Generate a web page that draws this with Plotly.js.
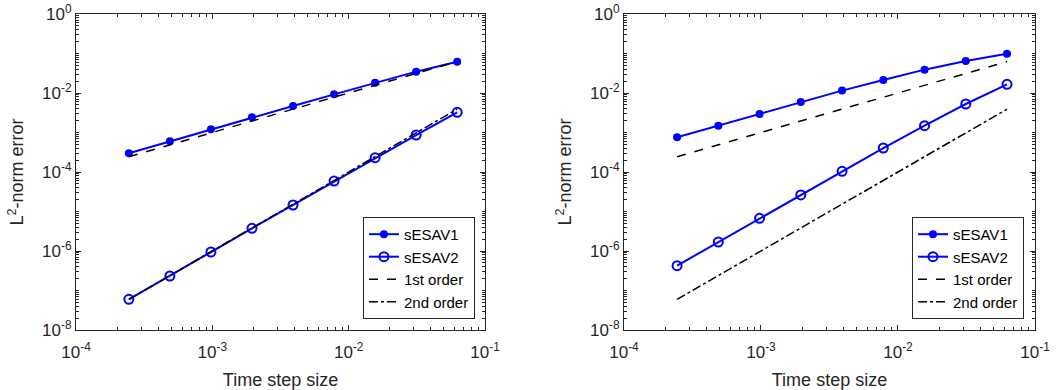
<!DOCTYPE html>
<html>
<head>
<meta charset="utf-8">
<script src="https://cdn.plot.ly/plotly-3.0.1.min.js"></script>
<style>html,body{margin:0;padding:0;background:#fff;}#chart{width:1060px;height:390px;}</style>
</head>
<body>
<div id="chart"></div>
<script>
// Time step sizes
const dt = [0.000244140625, 0.00048828125, 0.0009765625, 0.001953125, 0.00390625, 0.0078125, 0.015625, 0.03125, 0.0625];
// Reference slopes
const firstOrder = [2.44e-4, 4.88e-4, 9.77e-4, 1.95e-3, 3.91e-3, 7.81e-3, 1.56e-2, 3.13e-2, 6.25e-2];
const secondOrder = [5.96e-8, 2.38e-7, 9.54e-7, 3.81e-6, 1.53e-5, 6.10e-5, 2.44e-4, 9.77e-4, 3.91e-3];
// Left panel errors
const leftESAV1 = [2.97e-4, 5.97e-4, 1.20e-3, 2.42e-3, 4.69e-3, 9.25e-3, 1.83e-2, 3.47e-2, 6.21e-2];
const leftESAV2 = [5.97e-8, 2.33e-7, 9.43e-7, 3.75e-6, 1.46e-5, 5.91e-5, 2.31e-4, 8.64e-4, 3.24e-3];
// Right panel errors
const rightESAV1 = [7.55e-4, 1.49e-3, 2.94e-3, 5.92e-3, 1.15e-2, 2.13e-2, 3.90e-2, 6.46e-2, 9.90e-2];
const rightESAV2 = [4.25e-7, 1.69e-6, 6.71e-6, 2.62e-5, 1.04e-4, 4.05e-4, 1.49e-3, 5.27e-3, 1.66e-2];
// Names and tick labels
const seriesNames = ['sESAV1', 'sESAV2', '1st order', '2nd order'];
const xTickVals = [1e-4, 1e-3, 1e-2, 1e-1];
const xTickText = ['10<sup>-4</sup>', '10<sup>-3</sup>', '10<sup>-2</sup>', '10<sup>-1</sup>'];
const yTickVals = [1e-8, 1e-6, 1e-4, 1e-2, 1e0];
const yTickText = ['10<sup>-8</sup>', '10<sup>-6</sup>', '10<sup>-4</sup>', '10<sup>-2</sup>', '10<sup>0</sup>'];

const BLUE = '#0000ff';
const AX = '#262626';
const FONT = 'Liberation Sans, Arial, sans-serif';

function minorVals(lo, hi, withDecades) {
  const v = [];
  for (let e = lo; e < hi; e++) {
    const start = (withDecades && e > lo && (e - lo) % 2 === 1) ? 1 : 2;
    for (let m = start; m <= 9; m++) v.push(m * Math.pow(10, e));
  }
  return v;
}

function panel(xa, ya, leg, e1, e2) {
  return [
    {x: dt, y: e1, name: seriesNames[0], xaxis: xa, yaxis: ya, legend: leg, mode: 'lines+markers',
     line: {color: BLUE, width: 2}, marker: {symbol: 'circle', size: 8, color: BLUE}},
    {x: dt, y: e2, name: seriesNames[1], xaxis: xa, yaxis: ya, legend: leg, mode: 'lines+markers',
     line: {color: BLUE, width: 2}, marker: {symbol: 'circle-open', size: 9, color: BLUE, line: {width: 2, color: BLUE}}},
    {x: dt, y: firstOrder, name: seriesNames[2], xaxis: xa, yaxis: ya, legend: leg, mode: 'lines',
     line: {color: '#000', width: 1.5, dash: 'dash'}},
    {x: dt, y: secondOrder, name: seriesNames[3], xaxis: xa, yaxis: ya, legend: leg, mode: 'lines',
     line: {color: '#000', width: 1.5, dash: 'dashdot'}}
  ];
}

const data = [].concat(
  panel('x', 'y', 'legend', leftESAV1, leftESAV2),
  panel('x2', 'y2', 'legend2', rightESAV1, rightESAV2)
);

function xAxis(domain, anchor) {
  return {
    type: 'log', range: [-4, -1], domain: domain, anchor: anchor,
    tickmode: 'array', tickvals: xTickVals, ticktext: xTickText,
    ticks: 'inside', ticklen: 5, tickcolor: AX, tickwidth: 1, ticklabelstandoff: 7,
    minor: {tickmode: 'array', tickvals: minorVals(-4, -1, false), ticks: 'inside', ticklen: 3, tickcolor: AX, tickwidth: 1},
    showline: true, linecolor: AX, linewidth: 1, mirror: 'allticks', showgrid: false, zeroline: false,
    tickfont: {family: FONT, size: 17, color: AX},
    title: {text: 'Time step size', font: {family: FONT, size: 18, color: AX}, standoff: 11}
  };
}
function yAxis(anchor) {
  return {
    type: 'log', range: [-8, 0], domain: [0, 1], anchor: anchor,
    tickmode: 'array', tickvals: yTickVals, ticktext: yTickText,
    ticks: 'inside', ticklen: 5, tickcolor: AX, tickwidth: 1,
    minor: {tickmode: 'array', tickvals: minorVals(-8, 0, true), ticks: 'inside', ticklen: 3, tickcolor: AX, tickwidth: 1},
    showline: true, linecolor: AX, linewidth: 1, mirror: 'allticks', showgrid: false, zeroline: false,
    tickfont: {family: FONT, size: 17, color: AX},
    title: {text: 'L<sup>2</sup>-norm error', font: {family: FONT, size: 18, color: AX}, standoff: 13}
  };
}

function legendBox(xr) {
  return {
    x: xr, y: 0.035, xanchor: 'right', yanchor: 'bottom',
    bgcolor: '#fff', bordercolor: AX, borderwidth: 1,
    font: {family: FONT, size: 15, color: '#000'},
    tracegroupgap: 0, itemwidth: 30
  };
}

const layout = {
  width: 1060, height: 390,
  margin: {l: 76, r: 25, t: 14, b: 60},
  paper_bgcolor: '#fff', plot_bgcolor: '#fff',
  showlegend: true,
  xaxis: xAxis([0, 0.4265], 'y'),
  yaxis: yAxis('x'),
  xaxis2: xAxis([0.5714, 1.0], 'y2'),
  yaxis2: yAxis('x2'),
  legend: legendBox(0.416),
  legend2: legendBox(0.9885)
};

Plotly.newPlot('chart', data, layout, {staticPlot: true, displayModeBar: false});
</script>
</body>
</html>
